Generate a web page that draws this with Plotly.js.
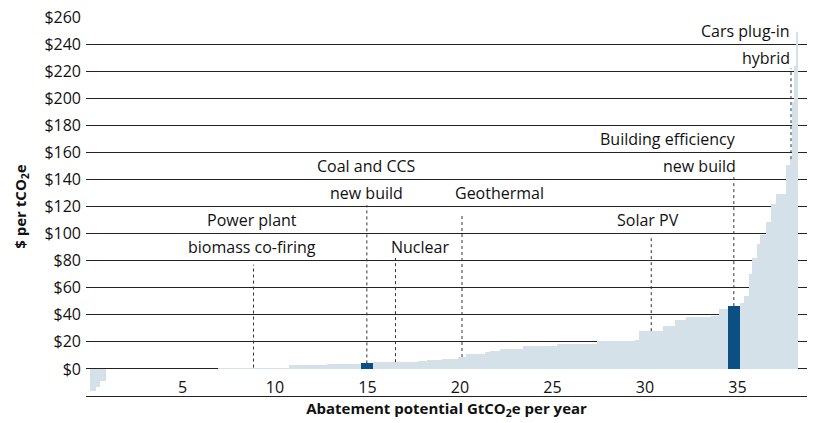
<!DOCTYPE html>
<html>
<head>
<meta charset="utf-8">
<script src="https://cdn.plot.ly/plotly-3.0.1.min.js"></script>
<style>
  html, body { margin: 0; padding: 0; background: #fff; }
  #chart { width: 814px; height: 423px; }
</style>
</head>
<body>
<div id="chart"></div>
<script>
// ---- Data ----
// Abatement measures in order of cost: width = abatement potential (GtCO2e/yr), cost = $ per tCO2e
const barWidths = [0.30, 0.24, 0.32, 6.06, 3.84, 2.03, 1.86, 0.63, 2.47, 0.45,
                   0.81, 0.89, 0.42, 1.03, 0.27, 0.54, 1.27, 1.80, 2.16, 2.07,
                   0.23, 1.30, 0.63, 0.58, 1.39, 0.43, 0.45, 0.67, 0.23, 0.27,
                   0.16, 0.27, 0.15, 0.30, 0.29, 0.27, 0.54, 0.22, 0.11, 0.13,
                   0.11, 0.11];
const barCosts  = [-16.4, -13, -9, 0.3, 1.0, 2.8, 3.6, 4.1, 5.0, 5.5,
                   6.3, 7.3, 8.8, 10.7, 12.3, 13.5, 15.0, 16.9, 18.6, 20.3,
                   21.4, 27.9, 31.6, 35.8, 38.0, 39.0, 44.0, 46.4, 48.4, 53.8,
                   69.8, 81.6, 92, 98.6, 108.5, 121.8, 129.5, 151, 155, 197,
                   224, 249];
// Labelled measures: name lines and the index of the bar they point to
const labelNames = [["Power plant", "biomass co-firing"], ["Coal and CCS", "new build"], ["Nuclear"],
                    ["Geothermal"], ["Solar PV"], ["Building efficiency", "new build"], ["Cars plug-in", "hybrid"]];
const labelBars = [4, 7, 8, 12, 21, 27, 38];
const highlightedBars = [7, 27];
const yTickValues = [-20, 0, 20, 40, 60, 80, 100, 120, 140, 160, 180, 200, 220, 240, 260];
const xTickValues = [5, 10, 15, 20, 25, 30, 35];

// ---- Derived ----
const starts = [];
let acc = 0;
for (const w of barWidths) { starts.push(acc); acc += w; }
const centers = starts.map((s, i) => s + barWidths[i] / 2);
const LIGHT = '#d5e1e9', DARK = '#0b4f85';
const colors = barCosts.map((_, i) => highlightedBars.includes(i) ? DARK : LIGHT);
const yTickText = yTickValues.map(v => (v < 0 ? '-$' + Math.abs(v) : '$' + v));

// label layout (text anchor offset / positions in data units, leader top)
const labelLayout = [
  {dx: -0.1,  ys: [110, 90],  anchor: 'center', top: 77},
  {dx: 0,     ys: [150, 130], anchor: 'center', top: 121},
  {dx: 1.35,  ys: [90],       anchor: 'center', top: 82},
  {dx: -0.5,  ys: [130],      anchor: 'left',   top: 115},
  {dx: -0.2,  ys: [110],      anchor: 'center', top: 97},
  {dx: 0.2,   ys: [170, 150], anchor: 'right',  top: 142},
  {dx: 0.05,  ys: [250, 230], anchor: 'right',  top: 222}
];

const FONT = 'Open Sans, Noto Sans, DejaVu Sans, sans-serif';
const annotations = [];
const shapes = [];
labelNames.forEach((lines, k) => {
  const L = labelLayout[k];
  const bi = labelBars[k];
  const lx = centers[bi];
  lines.forEach((t, j) => {
    annotations.push({
      x: lx + L.dx, y: L.ys[j], xref: 'x', yref: 'y', text: t, showarrow: false,
      xanchor: L.anchor, yanchor: 'middle',
      font: {family: FONT, size: 16, color: '#111'}
    });
  });
  shapes.push({
    type: 'line', xref: 'x', yref: 'y', x0: lx, x1: lx, y0: barCosts[bi], y1: L.top,
    line: {color: '#333', width: 1, dash: 'dot'}, layer: 'above'
  });
});

const trace = {
  type: 'bar',
  x: starts,
  y: barCosts,
  width: barWidths,
  offset: 0,
  marker: {color: colors, line: {width: 0}},
  hoverinfo: 'skip'
};

const layout = {
  width: 814, height: 423,
  margin: {l: 86, r: 7, t: 17, b: 27, pad: 0},
  paper_bgcolor: '#fff', plot_bgcolor: '#fff',
  font: {family: FONT, size: 16, color: '#111'},
  showlegend: false,
  bargap: 0,
  xaxis: {
    range: [-0.216, 38.76],
    tickvals: xTickValues,
    ticks: '',
    ticklabelposition: 'inside',
    showgrid: false, zeroline: false,
    showline: true, linecolor: '#222', linewidth: 1,
    tickfont: {family: FONT, size: 16, color: '#111'},
    title: {text: 'Abatement potential GtCO<sub>2</sub>e per year', standoff: 4,
            font: {family: FONT, size: 15, color: '#111', weight: 'bold'}},
    fixedrange: true
  },
  yaxis: {
    range: [-20, 260],
    tickvals: yTickValues,
    ticktext: yTickText,
    ticks: '',
    ticklabelstandoff: 4,
    showgrid: true, gridcolor: '#222', gridwidth: 1,
    zeroline: true, zerolinecolor: '#222', zerolinewidth: 1,
    tickfont: {family: FONT, size: 16, color: '#111'},
    title: {text: '$ per tCO<sub>2</sub>e', standoff: 14,
            font: {family: FONT, size: 15, color: '#111', weight: 'bold'}},
    fixedrange: true
  },
  annotations: annotations,
  shapes: shapes
};

Plotly.newPlot('chart', [trace], layout, {displayModeBar: false, staticPlot: true});
</script>
</body>
</html>
